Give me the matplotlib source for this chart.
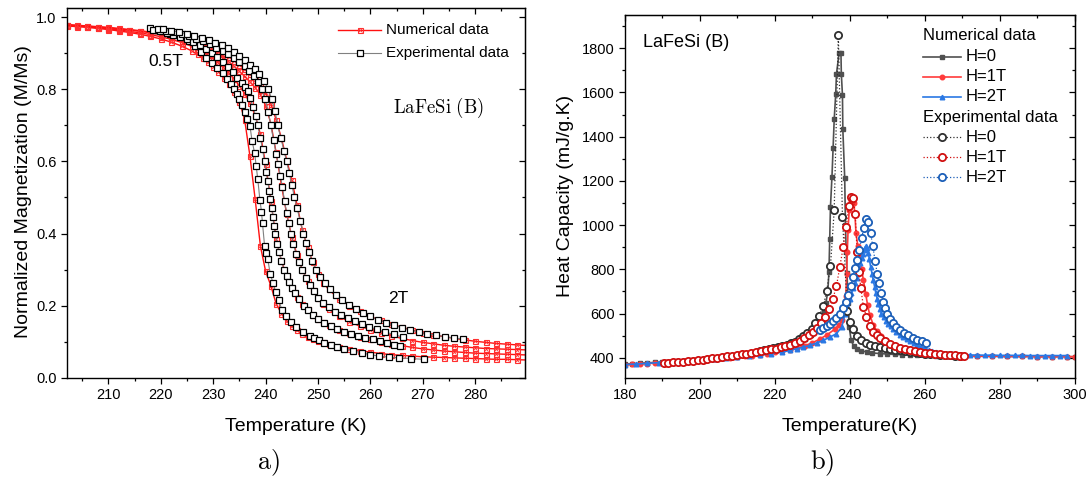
import numpy as np
import matplotlib
matplotlib.use('Agg')
import matplotlib.pyplot as plt
from matplotlib.ticker import MultipleLocator, NullFormatter

plt.rcParams['font.family'] = ['Liberation Sans', 'DejaVu Sans']
plt.rcParams['mathtext.fontset'] = 'cm'

# ---------------- panel a) : magnetization ----------------
# numerical data (common temperature grid), 0.5T / 1T / 1.5T / 2T
t_num = [202, 204, 206, 208, 210, 212, 214, 216, 218, 220, 222, 224, 226,
         227, 228, 229, 230, 231, 232, 233, 234, 235, 236, 237, 238, 239, 240,
         241, 242, 243, 244, 245, 246, 247, 248, 249, 250, 251, 252,
         254, 256, 258, 260, 262, 264, 266, 268, 270, 272, 274, 276, 278, 280,
         282, 284, 286, 288, 290]
m_num1 = [.976, .974, .972, .969, .966, .962, .958, .953, .947, .940, .931, .920, .906,
          .897, .887, .876, .863, .849, .832, .814, .793, .766, .715, .615, .495, .365, .295,
          .255, .205, .178, .158, .143, .131, .121, .113, .107, .102, .098, .094,
          .086, .080, .075, .071, .067, .064, .062, .060, .058, .057, .056, .055, .054, .053,
          .052, .051, .051, .050, .049]
m_num2 = [.978, .976, .974, .971, .968, .965, .961, .957, .952, .946, .939, .930, .919,
          .912, .904, .895, .885, .873, .860, .845, .828, .810, .788, .762, .728, .675, .592,
          .490, .385, .325, .282, .250, .225, .205, .190, .175, .163, .154, .146,
          .133, .123, .114, .107, .100, .094, .089, .084, .080, .077, .074, .072, .070, .068,
          .067, .066, .065, .064, .063]
m_num3 = [.979, .977, .975, .973, .971, .968, .965, .961, .957, .952, .946, .939, .930,
          .925, .919, .913, .906, .897, .887, .876, .864, .850, .836, .821, .805, .785, .755,
          .705, .625, .535, .455, .390, .340, .300, .268, .243, .222, .205, .191,
          .170, .155, .143, .133, .124, .116, .109, .103, .098, .094, .090, .087, .085, .083,
          .081, .080, .079, .078, .077]
m_num4 = [.980, .978, .976, .974, .972, .969, .966, .963, .959, .954, .949, .943, .935,
          .931, .926, .920, .914, .907, .899, .890, .880, .869, .856, .842, .827, .810, .790,
          .760, .716, .665, .605, .548, .478, .410, .362, .320, .288, .264, .245,
          .219, .200, .184, .170, .159, .149, .140, .132, .125, .119, .114, .109, .105, .101,
          .098, .095, .093, .091, .089]

# experimental data
t_exp1 = [217.9, 219.2, 220.5, 221.8, 223.0, 224.2, 225.4, 226.5, 227.6, 228.7,
          229.8, 230.8, 231.8, 232.7, 233.4, 234.0, 234.5, 235.0, 235.5, 236.0,
          236.5, 237.0, 237.4, 237.9, 238.2, 238.5, 238.9, 239.2, 239.4, 239.8,
          240.1, 240.4, 240.9, 241.4, 241.9, 242.5, 243.1, 243.9, 244.8, 245.8,
          247.1, 248.5, 249.3, 250.1, 251.2, 252.4, 253.7, 255.0, 256.6, 258.3,
          259.9, 261.6, 263.5, 265.5, 267.8, 270.2]
m_exp1 = [.970, .966, .961, .955, .950, .944, .935, .921, .905, .887,
          .874, .860, .845, .828, .814, .800, .787, .772, .756, .738,
          .719, .699, .658, .623, .587, .550, .494, .461, .428, .365,
          .346, .328, .287, .263, .238, .215, .188, .171, .155, .141,
          .127, .115, .110, .104, .097, .091, .086, .081, .075, .069,
          .064, .060, .057, .055, .053, .051]
t_exp2 = [218.5, 219.8, 221.1, 222.4, 223.7, 225.0, 226.2, 227.4, 228.6, 229.7,
          230.8, 231.8, 232.8, 233.7, 234.6, 235.4, 236.0, 236.6, 237.1, 237.6,
          238.1, 238.5, 239.0, 239.4, 239.8, 240.1, 240.4, 240.7, 240.9, 241.2,
          241.4, 241.6, 241.8, 242.2, 242.6, 243.0, 243.5, 244.0, 244.5, 245.0,
          245.6, 246.4, 247.3, 248.1, 249.0, 250.0, 251.1, 252.4, 253.7, 255.0,
          256.3, 257.7, 259.0, 260.4, 261.8, 263.2, 264.5, 265.6]
m_exp2 = [.966, .962, .957, .952, .946, .939, .931, .922, .912, .901,
          .889, .876, .862, .848, .832, .817, .806, .795, .775, .750,
          .725, .700, .666, .634, .600, .572, .545, .518, .497, .472,
          .445, .420, .398, .372, .348, .325, .300, .282, .265, .250,
          .235, .218, .200, .188, .174, .162, .152, .143, .135, .128,
          .122, .116, .111, .106, .101, .096, .091, .087]
t_exp3 = [219.5, 221.0, 222.5, 224.0, 225.4, 226.8, 228.1, 229.4, 230.6, 231.8,
          232.9, 234.0, 235.0, 236.0, 236.9, 237.7, 238.5, 239.3, 239.9, 240.5,
          241.0, 241.5, 242.0, 242.4, 242.8, 243.2, 243.6, 244.0, 244.4, 244.8,
          245.3, 245.8, 246.4, 247.0, 247.7, 248.4, 249.2, 250.0, 251.0, 252.0,
          253.2, 254.4, 255.7, 257.0, 258.4, 259.8, 261.3, 262.8, 264.4, 266.2]
m_exp3 = [.967, .963, .958, .953, .947, .940, .933, .925, .916, .907,
          .898, .888, .877, .864, .851, .838, .821, .800, .772, .738,
          .700, .660, .622, .592, .560, .528, .490, .458, .428, .400,
          .370, .344, .320, .300, .278, .258, .240, .222, .207, .195,
          .183, .174, .165, .157, .149, .141, .134, .127, .120, .112]
t_exp4 = [220.5, 222.0, 223.5, 225.0, 226.4, 227.8, 229.1, 230.4, 231.6, 232.8,
          233.9, 235.0, 236.0, 237.0, 237.9, 238.8, 239.7, 240.5, 241.2, 241.8,
          242.3, 242.9, 243.5, 244.0, 244.5, 245.0, 245.5, 246.0, 246.6, 247.2,
          247.7, 248.2, 248.9, 249.6, 250.4, 251.3, 252.3, 253.4, 254.6, 255.9,
          257.3, 258.6, 260.0, 261.5, 263.0, 264.5, 266.0, 267.6, 269.2, 270.8,
          272.5, 274.2, 276.0, 277.7]
m_exp4 = [.967, .963, .959, .954, .949, .943, .937, .930, .922, .914,
          .905, .894, .882, .869, .856, .842, .824, .800, .772, .740,
          .700, .665, .630, .600, .568, .535, .500, .470, .435, .400,
          .375, .350, .323, .300, .280, .262, .245, .230, .216, .203,
          .190, .180, .170, .161, .153, .145, .139, .132, .127, .122,
          .118, .114, .110, .107]

# ---------------- panel b) : heat capacity ----------------
t_n0 = [180, 182, 184, 186, 188, 190, 192, 194, 196, 198, 200, 202, 204, 206, 208,
        210, 212, 214, 216, 218, 220, 222, 224, 226, 228, 229.5, 231, 232, 233, 233.6,
        234.1, 234.4, 234.6, 234.8, 235.2, 235.5, 235.8, 236.2, 236.4, 237.1,
        237.6, 237.7, 238.0, 238.1, 238.6, 238.8, 239.0, 239.2, 239.5, 239.8,
        240.3, 241.0, 242.0, 243.0, 244.5, 246, 248, 250, 252, 254, 256, 258, 260,
        263, 266, 270, 274, 278, 282, 286, 290, 294, 298, 300]
c_n0 = [371, 373, 375, 377, 379, 381, 383, 385, 387, 390, 392, 395, 398, 401, 404,
        407, 411, 415, 420, 427, 435, 443, 453, 467, 485, 505, 535, 562, 605, 650,
        700, 790, 935, 1082, 1218, 1347, 1478, 1592, 1683, 1777,
        1777, 1683, 1588, 1433, 1212, 1000, 880, 785, 650, 540,
        480, 452, 440, 432, 426, 422, 419, 417, 415, 414, 413, 412, 411,
        410, 409, 408, 407, 407, 406, 406, 405, 405, 405, 405]
t_n1 = [180, 182, 184, 186, 188, 190, 192, 194, 196, 198, 200, 202, 204, 206, 208,
        210, 212, 214, 216, 218, 220, 222, 224, 226, 228, 230, 232, 234, 236,
        237, 238, 238.6, 238.9, 239.1, 239.3, 239.5, 239.8, 240.2, 240.6, 241.0,
        241.3, 241.6, 242.1, 242.6, 243.1, 243.6, 244.2, 244.7, 245.3, 246.2,
        247.1, 248.4, 249.5, 250.5, 252, 254, 256, 258, 260, 263, 266, 270, 274,
        278, 282, 286, 290, 294, 298, 300]
c_n1 = [368, 370, 372, 374, 376, 378, 380, 382, 384, 386, 388, 391, 394, 397, 400,
        403, 406, 410, 414, 419, 424, 430, 437, 445, 455, 468, 485, 505, 530,
        548, 572, 610, 680, 780, 880, 980, 1068, 1110, 1120, 1100,
        1056, 965, 905, 850, 800, 750, 690, 638, 592, 550,
        522, 498, 480, 466, 450, 437, 428, 421, 417, 413, 410, 408, 407,
        407, 406, 406, 405, 405, 405, 405]
t_n2 = [180, 183, 186, 189, 192, 195, 198, 201, 204, 207, 210, 213, 216, 219, 222,
        224, 225.8, 227.6, 229.3, 231.1, 232.9, 234.7, 236.4, 237.8, 238.7,
        239.3, 239.9, 240.4, 240.9, 241.4, 241.8, 242.2, 242.5, 242.8, 243.1,
        243.4, 243.7, 244.0, 244.3, 244.6, 244.9, 245.2, 245.5, 245.9, 246.2,
        246.6, 246.9, 247.3, 247.6, 248.0, 248.4, 249.0, 249.6, 250.2, 250.9,
        251.6, 252.4, 253.3, 254.2, 255.1, 256.0, 257.0, 258.0, 259.0, 260.0,
        261.0, 262.0, 263.0, 264.0, 265.0, 266.5, 268, 270, 272, 274,
        276, 278, 280, 282, 284, 286, 288, 290, 292, 294, 296, 298]
c_n2 = [369, 372, 375, 378, 381, 384, 387, 390, 394, 398, 402, 407, 412, 418, 426,
        433, 441, 448, 456, 467, 479, 494, 509, 539, 600,
        635, 668, 695, 714, 738, 759, 782, 804, 827, 850,
        870, 888, 898, 905, 895, 873, 845, 812, 780, 751,
        720, 691, 665, 645, 622, 600, 583, 568, 555, 543,
        532, 515, 501, 493, 486, 477, 467, 458, 450, 443,
        436, 430, 425, 421, 418, 415, 414, 413, 413, 412,
        412, 412, 411, 411, 411, 411, 410, 410, 410, 410, 410, 410]

t_e0 = [216.0, 217.2, 218.4, 219.6, 220.8, 222.0, 223.1, 224.2, 225.3, 226.5,
        227.6, 228.6, 229.8, 230.8, 231.8, 232.9, 233.8, 234.8, 235.8, 236.9,
        238.0, 239.3, 240.0, 240.7, 241.8, 242.9, 244.2, 245.3, 246.7, 248.0,
        249.3, 250.7, 252.0, 253.3, 254.7, 256.0, 257.3, 258.7, 260.0, 261.3,
        262.7, 264.0, 265.3, 266.7, 268.0, 269.3]
c_e0 = [432, 436, 440, 444, 448, 453, 458, 465, 473, 483,
        497, 512, 532, 557, 588, 633, 703, 815, 1067, 1858,
        1036, 610, 560, 532, 497, 479, 467, 459, 453, 448,
        444, 439, 436, 433, 430, 427, 424, 421, 419, 417,
        415, 413, 412, 411, 410, 409]
t_e1 = [190.3, 191.6, 192.9, 194.2, 195.5, 196.8, 198.1, 199.4, 200.7, 202.0,
        203.3, 204.6, 205.9, 207.2, 208.5, 209.8, 211.1, 212.4, 213.7, 215.0,
        216.3, 217.6, 218.9, 220.2, 221.5, 222.8, 224.1, 225.4, 226.6, 227.8,
        229.0, 230.2, 231.3, 232.4, 233.4, 234.4, 235.4, 236.4, 237.3, 238.2,
        239.0, 239.7, 240.3, 240.9, 241.4, 241.9, 242.4, 242.9, 243.6, 244.4,
        245.3, 246.2, 247.1, 248.0, 249.3, 250.7, 252.0, 253.3, 254.7, 256.0,
        257.3, 258.7, 260.0, 261.3, 262.7, 264.0, 265.3, 266.7, 268.0, 269.3, 270.5]
c_e1 = [375, 377, 379, 381, 383, 385, 387, 389, 392, 395,
        398, 401, 404, 407, 410, 413, 416, 419, 422, 426,
        430, 434, 438, 442, 447, 453, 460, 468, 478, 489,
        503, 518, 535, 556, 583, 620, 664, 724, 812, 900,
        990, 1085, 1126, 1122, 1050, 880, 790, 714, 630, 585,
        542, 517, 501, 491, 476, 463, 453, 445, 439, 435,
        430, 425, 423, 420, 417, 415, 414, 412, 411, 410, 410]
t_e2 = [231.9, 232.9, 233.8, 234.7, 235.6, 236.4, 237.3, 238.2, 238.9, 239.6,
        240.2, 240.7, 241.3, 241.8, 242.5, 243.1, 243.7, 244.3, 244.9, 245.5,
        246.1, 246.7, 247.3, 247.8, 248.4, 248.9, 249.3, 250.0, 250.7, 251.6,
        252.4, 253.3, 254.4, 255.6, 256.7, 257.8, 259.1, 260.3]
c_e2 = [527, 535, 544, 554, 567, 582, 600, 623, 653, 686,
        724, 764, 804, 842, 888, 941, 986, 1029, 1013, 963,
        905, 838, 778, 736, 691, 653, 627, 600, 577, 557,
        539, 524, 512, 501, 491, 482, 474, 466]

fields = ['H=0', 'H=1T', 'H=2T']
num_colors = ['#505050', '#ff3b3b', '#2a78e4']
num_markers = ['s', 'o', '^']
exp_colors = ['#303030', '#d01010', '#1c5fb8']


def frame(ax, xmaj, xmin, ymaj, ymin):
    ax.xaxis.set_major_locator(MultipleLocator(xmaj))
    ax.xaxis.set_minor_locator(MultipleLocator(xmin))
    ax.yaxis.set_major_locator(MultipleLocator(ymaj))
    ax.yaxis.set_minor_locator(MultipleLocator(ymin))
    ax.tick_params(which='both', direction='out', top=False, right=False,
                   labelsize=10.5, width=0.9, pad=3)
    ax.tick_params(which='major', length=4.5)
    ax.tick_params(which='minor', length=2.5)
    for s in ax.spines.values():
        s.set_linewidth(1.0)
    top = ax.secondary_xaxis('top')
    top.xaxis.set_major_locator(MultipleLocator(xmaj))
    top.xaxis.set_minor_locator(MultipleLocator(xmin))
    top.xaxis.set_major_formatter(NullFormatter())
    top.tick_params(which='both', direction='in', width=0.9)
    top.tick_params(which='major', length=4.5)
    top.tick_params(which='minor', length=2.5)
    right = ax.secondary_yaxis('right')
    right.yaxis.set_major_locator(MultipleLocator(ymaj))
    right.yaxis.set_minor_locator(MultipleLocator(ymin))
    right.yaxis.set_major_formatter(NullFormatter())
    right.tick_params(which='both', direction='in', width=0.9)
    right.tick_params(which='major', length=4.5)
    right.tick_params(which='minor', length=2.5)


fig = plt.figure(figsize=(10.92, 4.82), dpi=100)
ax1 = fig.add_axes([0.0614, 0.2164, 0.4194, 0.7664])
ax2 = fig.add_axes([0.5723, 0.2164, 0.4121, 0.7525])

# ---- panel a
for m in [m_num1, m_num2, m_num3, m_num4]:
    ax1.plot(t_num, m, '-', color='#ff1010', lw=1.0, marker='s', ms=3.6,
             mfc='none', mec='#ff3030', mew=0.8, zorder=2)
    ax1.plot(t_num, m, ls='none', marker='x', ms=2.6, mec='#ff3030', mew=0.6, zorder=2)
for t, m in [(t_exp1, m_exp1), (t_exp2, m_exp2), (t_exp3, m_exp3), (t_exp4, m_exp4)]:
    ax1.plot(t, m, '-', color='#808080', lw=0.8, marker='s', ms=4.6,
             mfc='white', mec='black', mew=0.9, zorder=3)

ax1.set_xlim(202.1, 289.5)
ax1.set_ylim(0, 1.025)
frame(ax1, 10, 5, 0.2, 0.1)
ax1.set_xlabel('Temperature (K)', fontsize=14)
ax1.xaxis.label.set_va('center')
ax1.xaxis.set_label_coords(0.5, -0.133)
ax1.set_ylabel('Normalized Magnetization (M/Ms)', fontsize=14)
ax1.yaxis.label.set_va('center')
ax1.yaxis.set_label_coords(-0.096, 0.505)

# legend a
ta = ax1.transAxes
ax1.plot([0.592, 0.686], [0.941, 0.941], transform=ta, color='#ff1010', lw=1.0, clip_on=False)
ax1.plot([0.639], [0.941], transform=ta, marker='s', ms=3.6, mfc='none', mec='#ff3030', mew=0.8)
ax1.plot([0.639], [0.941], transform=ta, marker='x', ms=2.6, mec='#ff3030', mew=0.6)
ax1.text(0.697, 0.941, 'Numerical data', transform=ta, fontsize=11, va='center')
ax1.plot([0.592, 0.686], [0.878, 0.878], transform=ta, color='#808080', lw=0.8, clip_on=False)
ax1.plot([0.639], [0.878], transform=ta, marker='s', ms=4.6, mfc='white', mec='black', mew=0.9)
ax1.text(0.697, 0.878, 'Experimental data', transform=ta, fontsize=11, va='center')

ax1.text(0.215, 0.855, '0.5T', transform=ta, fontsize=12.5, ha='center', va='center')
ax1.text(0.723, 0.215, '2T', transform=ta, fontsize=12.5, ha='center', va='center')
ax1.text(0.811, 0.729, r'$\mathrm{LaFeSi\ (B)}$', transform=ta, fontsize=13.5,
         ha='center', va='center')

# ---- panel b
num_t = [t_n0, t_n1, t_n2]
num_c = [c_n0, c_n1, c_n2]
for i in range(3):
    ax2.plot(num_t[i], num_c[i], '-', color=num_colors[i], lw=1.2,
             marker=num_markers[i], ms=3.3, mfc=num_colors[i], mec=num_colors[i], zorder=2)
exp_t = [t_e0, t_e1, t_e2]
exp_c = [c_e0, c_e1, c_e2]
for i in range(3):
    ax2.plot(exp_t[i], exp_c[i], ':', color=exp_colors[i], lw=0.9,
             marker='o', ms=5.2, mfc='white', mec=exp_colors[i], mew=1.3, zorder=3 + i)

ax2.set_xlim(180, 300)
ax2.set_ylim(310, 1950)
frame(ax2, 20, 10, 200, 100)
ax2.set_xlabel('Temperature(K)', fontsize=14)
ax2.xaxis.label.set_va('center')
ax2.xaxis.set_label_coords(0.5, -0.135)
ax2.set_ylabel('Heat Capacity (mJ/g.K)', fontsize=14)
ax2.yaxis.label.set_va('center')
ax2.yaxis.set_label_coords(-0.132, 0.5)

tb = ax2.transAxes
ax2.text(0.04, 0.924, 'LaFeSi (B)', transform=tb, fontsize=13, va='center')

# legend b
rows = [0.885, 0.83, 0.775]
ax2.text(0.663, 0.943, 'Numerical data', transform=tb, fontsize=12, va='center')
for i in range(3):
    y = rows[i]
    ax2.plot([0.663, 0.747], [y, y], transform=tb, color=num_colors[i], lw=1.2, clip_on=False)
    ax2.plot([0.705], [y], transform=tb, marker=num_markers[i], ms=3.3,
             color=num_colors[i], clip_on=False)
    ax2.text(0.758, y, fields[i], transform=tb, fontsize=12, va='center')
rows = [0.663, 0.608, 0.553]
ax2.text(0.663, 0.718, 'Experimental data', transform=tb, fontsize=12, va='center')
for i in range(3):
    y = rows[i]
    ax2.plot([0.663, 0.747], [y, y], ':', transform=tb, color=exp_colors[i], lw=0.9, clip_on=False)
    ax2.plot([0.705], [y], transform=tb, marker='o', ms=5.2, mfc='white',
             mec=exp_colors[i], mew=1.3, clip_on=False)
    ax2.text(0.758, y, fields[i], transform=tb, fontsize=12, va='center')

fig.text(268 / 1092, 1 - 463 / 482, r'$\mathrm{a)}$', fontsize=19, ha='center', va='center')
fig.text(822 / 1092, 1 - 463 / 482, r'$\mathrm{b)}$', fontsize=19, ha='center', va='center')

fig.savefig('out.png', dpi=100)
